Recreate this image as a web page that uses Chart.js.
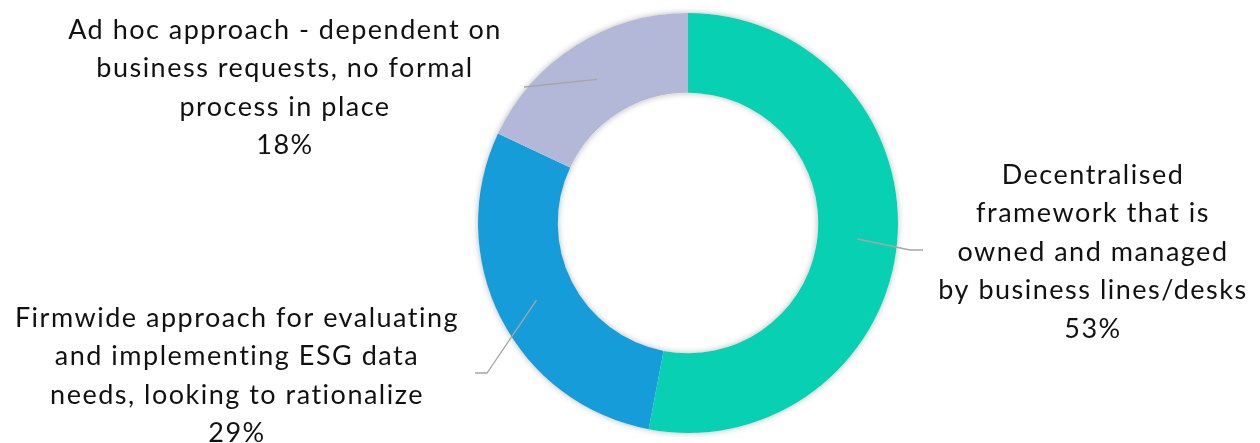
<!DOCTYPE html>
<html>
<head>
<meta charset="utf-8">
<script src="https://cdn.jsdelivr.net/npm/chart.js@4"></script>
<style>
  html, body { margin: 0; padding: 0; background: #fff; }
  #wrap { width: 1260px; height: 443px; position: relative; }
</style>
</head>
<body>
<div id="wrap"><canvas id="grafico"></canvas></div>
<script>
// data
const categorias = [
  ["Decentralised", "framework that is", "owned and managed", "by business lines/desks"],
  ["Firmwide approach for evaluating", "and implementing ESG data", "needs, looking to rationalize"],
  ["Ad hoc approach - dependent on", "business requests, no formal", "process in place"]
];
const valores = [53, 29, 18];
const cores = ["#07d1b2", "#169dd9", "#b4b8d8"];

// where each label box sits and where its leader line bends
const rotulos = [
  { x: 1093, y: 175, elbow: [910, 250], end: [923, 250] },
  { x: 237, y: 318, elbow: [487, 373], end: [475, 373] },
  { x: 285, y: 30, elbow: [524, 87], end: [524, 87] }
];

const fonte = "27px Lato, 'Noto Sans', sans-serif";
const linha = 38.5;

const sombraAnel = {
  id: "sombraAnel",
  beforeDatasetsDraw(chart) {
    const arc = chart.getDatasetMeta(0).data[0];
    if (!arc) return;
    const ctx = chart.ctx;
    ctx.save();
    ctx.shadowColor = "rgba(0,0,0,0.28)";
    ctx.shadowBlur = 6;
    ctx.fillStyle = "#fff";
    ctx.beginPath();
    ctx.arc(arc.x, arc.y, arc.outerRadius, 0, Math.PI * 2);
    ctx.arc(arc.x, arc.y, arc.innerRadius, 0, Math.PI * 2, true);
    ctx.fill();
    ctx.restore();
  }
};

const rotulosPlugin = {
  id: "rotulos",
  afterDatasetsDraw(chart) {
    const ctx = chart.ctx;
    const meta = chart.getDatasetMeta(0);
    ctx.save();
    meta.data.forEach((arc, i) => {
      const p = arc.tooltipPosition();
      const r = rotulos[i];
      ctx.strokeStyle = "#a6a6a6";
      ctx.lineWidth = 1.3;
      ctx.beginPath();
      ctx.moveTo(p.x, p.y);
      ctx.lineTo(r.elbow[0], r.elbow[1]);
      ctx.lineTo(r.end[0], r.end[1]);
      ctx.stroke();

      ctx.fillStyle = "#111";
      ctx.font = fonte;
      ctx.letterSpacing = "1.5px";
      ctx.textAlign = "center";
      ctx.textBaseline = "middle";
      const linhas = categorias[i].concat([valores[i] + "%"]);
      linhas.forEach((t, k) => ctx.fillText(t, r.x, r.y + k * linha));
    });
    ctx.restore();
  }
};

new Chart(document.getElementById("grafico"), {
  type: "doughnut",
  data: {
    labels: categorias.map(c => c.join(" ")),
    datasets: [{
      data: valores,
      backgroundColor: cores,
      borderWidth: 0,
      hoverOffset: 0
    }]
  },
  options: {
    responsive: true,
    maintainAspectRatio: false,
    animation: false,
    cutout: "62%",
    layout: {
      padding: { left: 478, right: 362, top: 13, bottom: 10 }
    },
    plugins: {
      legend: { display: false },
      tooltip: { enabled: false }
    }
  },
  plugins: [sombraAnel, rotulosPlugin]
});
</script>
</body>
</html>
